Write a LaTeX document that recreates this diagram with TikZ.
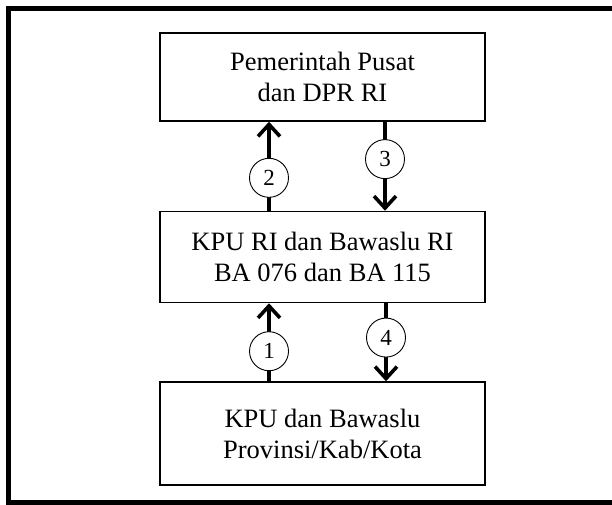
\documentclass[tikz,border=0pt]{standalone}
\usepackage{fontspec}
\setmainfont{Liberation Serif}
\usetikzlibrary{arrows.meta}
\usetikzlibrary{positioning}
\tikzset{
	box/.style={draw, line width=1.5pt, minimum width=325pt, align=center,
		inner sep=0pt, font=\fontsize{26.5}{31}\selectfont},
	flow/.style={line width=3.8pt, -{Straight Barb[length=12pt, width=22pt, line width=3.6pt]}},
	num/.style={circle, draw, line width=0.9pt, fill=white, minimum size=39pt,
		inner sep=0pt, font=\fontsize{23}{26}\selectfont},
	frame/.style={line width=5pt}
}

\begin{document}
\begin{tikzpicture}[x=1pt, y=1pt]
	\useasboundingbox (0,0) rectangle (612,504);
	\draw[frame] (8.5,495.5) rectangle (640,1.5);
	% the three levels
	\node[box, minimum height=88pt] (top) at (322.5,427)
	{Pemerintah Pusat\\ dan DPR RI};
	\node[box, minimum height=91pt, below=89pt of top] (mid)
	{KPU RI dan Bawaslu RI\\ BA 076 dan BA 115};
	\node[box, minimum height=103pt, below=78pt of mid] (low)
	{KPU dan Bawaslu\\ Provinsi/Kab/Kota};
	% numbered flows
	\draw[flow] ([xshift=-53.5pt]low.north) -- node[num, pos=0.385] (c1) {1} ([xshift=-53.5pt]mid.south);
	\draw[flow] ([xshift=-53.5pt]mid.north) -- node[num, pos=0.37] (c2) {2} ([xshift=-53.5pt]top.south);
	\draw[flow] ([xshift=62.5pt]top.south) -- node[num, pos=0.42] (c3) {3} ([xshift=62.5pt]mid.north);
	\draw[flow] ([xshift=63.5pt]mid.south) -- node[num, pos=0.44] (c4) {4} ([xshift=63.5pt]low.north);
\end{tikzpicture}
\end{document}
